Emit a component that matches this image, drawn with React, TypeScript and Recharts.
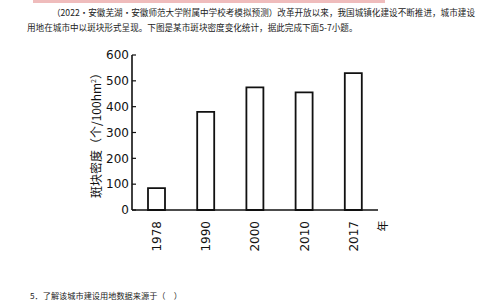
import { Bar, BarChart, XAxis, YAxis } from 'recharts';

const YEARS = ['1978', '1990', '2000', '2010', '2017'];
const DENSITY = [85, 380, 475, 455, 530];
const Y_TICKS = [0, 100, 200, 300, 400, 500, 600];

const INTRO_1 = '（2022·安徽芜湖·安徽师范大学附属中学校考模拟预测）改革开放以来，我国城镇化建设不断推进，城市建设';
const INTRO_2 = '用地在城市中以斑块形式呈现。下图是某市斑块密度变化统计，据此完成下面5-7小题。';
const QUESTION = '5．了解该城市建设用地数据来源于（　）';

const data = YEARS.map((year, i) => ({ year, density: DENSITY[i] }));

const NUM_FONT = '"DejaVu Sans", Verdana, sans-serif';
const CJK_FONT = '"Noto Sans CJK SC", "Noto Sans", sans-serif';

function YearTick({ x, y, payload }: any) {
  return (
    <g transform={`translate(${x},${y + 3})`}>
      <text
        transform="rotate(-90)"
        textAnchor="end"
        dy="0.36em"
        fontSize={12}
        fontFamily={NUM_FONT}
        fill="#111"
      >
        {payload.value}
      </text>
    </g>
  );
}

function YearUnit({ viewBox }: any) {
  const x = viewBox.x + viewBox.width + 5;
  const y = viewBox.y + 16;
  return (
    <text
      transform={`translate(${x},${y}) rotate(-90)`}
      textAnchor="middle"
      dy="0.36em"
      fontSize={11}
      fontFamily={CJK_FONT}
      fill="#111"
    >
      年
    </text>
  );
}

function DensityLabel({ viewBox }: any) {
  const x = viewBox.x + viewBox.width - 35;
  const y = viewBox.y + viewBox.height / 2;
  return (
    <text
      transform={`translate(${x},${y}) rotate(-90)`}
      textAnchor="middle"
      dy="0.36em"
      fontSize={12}
      fontFamily={CJK_FONT}
      fill="#111"
    >
      <tspan>斑块密度（个/100hm</tspan>
      <tspan fontSize={7} dy={-5}>2</tspan>
      <tspan dy={5}>）</tspan>
    </text>
  );
}

export default function App() {
  return (
    <div style={{ position: 'fixed', left: 0, top: 0, width: 484, height: 300, background: '#fff', overflow: 'hidden' }}>
      <div style={{ position: 'absolute', left: 33, top: 0, width: 352, height: 3, background: '#e8a0a0', opacity: 0.7 }} />
      <div
        style={{
          position: 'absolute',
          left: 52,
          top: 6,
          width: 401,
          fontSize: 8.6,
          lineHeight: '12px',
          fontFamily: CJK_FONT,
          color: '#222',
          textAlign: 'justify',
          textAlignLast: 'justify',
          whiteSpace: 'nowrap',
        }}
      >
        {INTRO_1}
      </div>
      <div
        style={{
          position: 'absolute',
          left: 27,
          top: 21,
          fontSize: 8.6,
          lineHeight: '12px',
          fontFamily: CJK_FONT,
          color: '#222',
          whiteSpace: 'nowrap',
        }}
      >
        {INTRO_2}
      </div>
      <div
        style={{
          position: 'absolute',
          left: 30,
          top: 289,
          fontSize: 8.2,
          lineHeight: '12px',
          fontFamily: CJK_FONT,
          color: '#222',
          whiteSpace: 'nowrap',
        }}
      >
        {QUESTION}
      </div>
      <div style={{ position: 'absolute', left: 0, top: 0 }}>
        <BarChart
          width={484}
          height={300}
          data={data}
          margin={{ top: 55, right: 106, bottom: 50, left: 0 }}
        >
          <XAxis
            dataKey="year"
            height={40}
            axisLine={{ stroke: '#111', strokeWidth: 1.6 }}
            tickLine={false}
            tick={<YearTick />}
            interval={0}
            label={<YearUnit />}
          />
          <YAxis
            width={132}
            domain={[0, 600]}
            ticks={Y_TICKS}
            interval={0}
            axisLine={{ stroke: '#111', strokeWidth: 1.6 }}
            tickLine={{ stroke: '#111', strokeWidth: 1.2 }}
            tickSize={-4}
            tickMargin={7}
            tick={{ fontSize: 12, fontFamily: NUM_FONT, fill: '#111' }}
            label={<DensityLabel />}
          />
          <Bar
            dataKey="density"
            barSize={17}
            fill="#fff"
            stroke="#111"
            strokeWidth={1.8}
            isAnimationActive={false}
          />
        </BarChart>
      </div>
    </div>
  );
}
